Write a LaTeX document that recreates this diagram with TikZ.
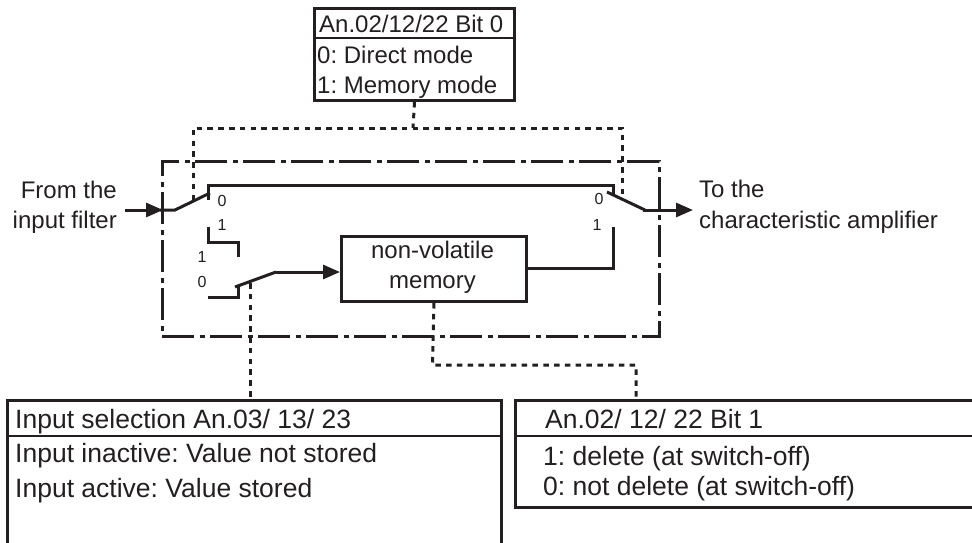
\documentclass[tikz,border=0pt]{standalone}
\usepackage{fontspec}
\setmainfont{Liberation Sans}
\usetikzlibrary{arrows.meta}
\definecolor{ink}{RGB}{35,31,32}
\frenchspacing
\begin{document}
\begin{tikzpicture}[x=1pt,y=-1pt,
  line/.style={draw=ink,line width=3pt},
  dashline/.style={draw=ink,line width=3pt,dash pattern=on 5.5pt off 5.3pt},
  dashdot/.style={draw=ink,line width=2.8pt,dash pattern=on 32pt off 5.5pt on 5pt off 5.5pt},
  arr/.style={-{Triangle[length=17pt,width=14pt]}},
  box/.style={draw=ink,line width=3pt,rectangle,inner sep=0pt,anchor=north west},
  sep/.style={draw=ink,line width=2.4pt},
  txt/.style={inner sep=0pt,anchor=base west,text=ink,font=\fontsize{24}{29}\selectfont},
  rtxt/.style={txt,anchor=base east},
  ctxt/.style={txt,anchor=base},
  btxt/.style={txt,font=\fontsize{26.5}{32}\selectfont},
  small/.style={inner sep=0pt,text=ink,font=\fontsize{16}{19}\selectfont},
]
\useasboundingbox (0,0) rectangle (972,542);
\clip (0,0) rectangle (972,542);

% top parameter box
\node[box,minimum width=200pt,minimum height=92pt] (topbox) at (313,7) {};
\draw[sep] (313,38) -- (513,38);
\node[txt] (t1) at (319,32) {An.02/12/22 Bit 0};
\node[txt] (t2) at (317,63) {0: Direct mode};
\node[txt] (t3) at (317,93) {1: Memory mode};

% dash-dot frame
\node[box,dashdot,line width=2.8pt,minimum width=497pt,minimum height=175pt] (frame) at (161,160) {};

% memory
\node[box,minimum width=185pt,minimum height=65pt] (mem) at (340,235) {};
\node[ctxt] (m1) at (432.5,258) {non-volatile};
\node[ctxt] (m2) at (432.5,288) {memory};

% bottom boxes
\node[box,minimum width=494pt,minimum height=200pt] (selbox) at (6,399) {};
\draw[sep] (6,436) -- (500,436);
\node[btxt] (s1) at (15,428) {Input selection An.03/ 13/ 23};
\node[btxt] (s2) at (15,462) {Input inactive: Value not stored};
\node[btxt] (s3) at (15,497) {Input active: Value stored};

\node[box,minimum width=480pt,minimum height=107pt] (delbox) at (514,399) {};
\draw[sep] (514,436) -- (994,436);
\node[btxt] (d1) at (545,428) {An.02/ 12/ 22 Bit 1};
\node[btxt] (d2) at (543,465) {1: delete (at switch-off)};
\node[btxt] (d3) at (543,495) {0: not delete (at switch-off)};

% side texts
\node[rtxt] (f1) at (117,198) {From the};
\node[rtxt] (f2) at (117,228) {input filter};
\node[txt] (o1) at (699,197) {To the};
\node[txt] (o2) at (699,228) {characteristic amplifier};

% switch labels
\node[small] (l0a) at (222,201) {0};
\node[small] (l1a) at (222,225) {1};
\node[small] (l1b) at (202,257) {1};
\node[small] (l0b) at (202,282) {0};
\node[small] (r0) at (599,199) {0};
\node[small] (r1) at (597,225) {1};

% coordinates
\coordinate (inA) at (125,210);
\coordinate (outA) at (693,210);
\coordinate (sw2) at (276,272);
\coordinate (selctl) at (250,283);
\coordinate (memout) at (525,268);

% input switch
\draw[line,arr] (inA) -- (163,210);
\draw[line] (160,210) -- (175,210) -- (210,193);
\draw[line] (208,200) -- (208,185) -- (613,185) -- (613,195);
% output switch
\draw[line] (607,192) -- (645,210);
\draw[line,arr] (643,210) -- (outA);

% memory switch
\draw[line] (208,227) -- (208,242) -- (238,242) -- (238,257);
\draw[line] (208,297) -- (238,297) -- (238,285);
\draw[line] (235,287) -- (sw2);
\draw[line,arr] (sw2) -- (sw2 -| mem.west);
\draw[line] (memout) -- (613,268) -- (613,227);

% dashed control lines
\draw[dashline] (topbox.south) -- (413,128);
\draw[dashline] (193,200) -- (193,128) -- (622,128) -- (622,199);
\draw[dashline] (selctl) -- (selctl |- selbox.north);
\draw[dashline] (mem.south) -- (432.5,365) -- (636,365) -- (636,399);
\end{tikzpicture}
\end{document}
